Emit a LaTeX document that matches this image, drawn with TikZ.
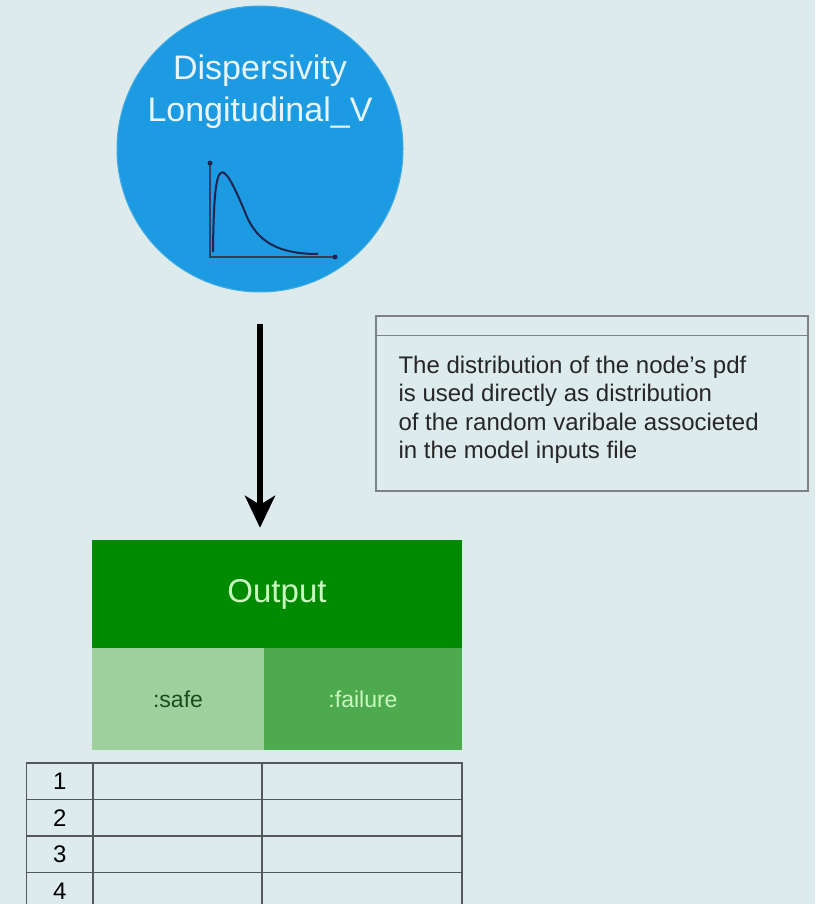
\documentclass[tikz,border=0pt]{standalone}
\usepackage{fontspec}
\setmainfont{Liberation Sans}
\usetikzlibrary{matrix,arrows.meta}

\definecolor{bgpaper}{RGB}{222,235,237}
\definecolor{nodeblue}{RGB}{29,155,226}
\definecolor{plotnavy}{RGB}{28,36,80}
\definecolor{outgreen}{RGB}{0,138,0}
\definecolor{safegreen}{RGB}{158,208,158}
\definecolor{failgreen}{RGB}{78,170,78}
\definecolor{palegreen}{RGB}{200,250,190}
\definecolor{darkgreen}{RGB}{30,75,30}
\definecolor{notegray}{RGB}{125,130,132}
\definecolor{tablegray}{RGB}{85,88,90}

\tikzset{
  pdfnode/.style={circle, fill=nodeblue, draw=nodeblue!85!white, line width=1pt,
    minimum size=286pt, inner sep=0pt},
  pdflabel/.style={text=white!90!nodeblue, align=center,
    font=\fontsize{34pt}{42pt}\selectfont},
  plotaxis/.style={draw=plotnavy!75!gray, line width=1.8pt},
  plotcurve/.style={draw=plotnavy, line width=2pt},
  flowarrow/.style={line width=6pt, -{Stealth[length=32pt, width=30pt, inset=9pt]}},
  notebox/.style={draw=notegray, line width=1.5pt, minimum width=432pt,
    minimum height=175pt, inner sep=0pt},
  notetext/.style={align=left, text=black!85, font=\fontsize{24pt}{28.5pt}\selectfont},
  outhead/.style={fill=outgreen, text=palegreen, minimum width=370pt,
    minimum height=108pt, inner sep=0pt, font=\fontsize{33pt}{40pt}\selectfont},
  safecell/.style={fill=safegreen, text=darkgreen, minimum width=172pt,
    minimum height=102pt, inner sep=0pt, font=\fontsize{23pt}{28pt}\selectfont},
  failcell/.style={fill=failgreen, text=palegreen, minimum width=198pt,
    minimum height=102pt, inner sep=0pt, font=\fontsize{23pt}{28pt}\selectfont}
}

\begin{document}
\begin{tikzpicture}[x=1pt, y=-1pt]
\clip (0,0) rectangle (815,904);
\fill[bgpaper] (0,0) rectangle (815,904);

    % Nodo de entrada
\node[pdfnode] (disp) at (260,149) {};
\node[pdflabel] (displabel) at (260,92) {Dispersivity\\Longitudinal\_V};

    % Icono de la pdf
\draw[plotaxis] (210,163) -- (210,257) -- (335,257);
\fill[plotnavy] (210,163) circle (2.5);
\fill[plotnavy] (335,257) circle (2.5);
\draw[plotcurve] (213,252) .. controls (214,152) and (221,155) .. (245,212)
    .. controls (256.5,243) and (280,254) .. (318,254);

    % Nota
\node[notebox] (note) at (592,403.5) {};
\draw[draw=notegray, line width=1.5pt] ([yshift=-20pt]note.north west) -- ([yshift=-20pt]note.north east);
\node[notetext, anchor=west] (notetxt) at (395,410)
{The distribution of the node's pdf\\
is used directly as distribution\\
of the random varibale associeted\\
in the model inputs file};

    % Salida
\node[outhead] (outhead) at (277,594) {Output};
\node[safecell] (safe) at (178,699) {:safe};
\node[failcell] (fail) at (363,699) {:failure};

    % Flecha
\draw[flowarrow, shorten <=31pt, shorten >=12pt] (disp.south) -- (disp.south |- outhead.north);

    % Tabla de resultados
\matrix (runs) [matrix of nodes, nodes in empty cells,
nodes={draw=tablegray, line width=1.5pt, minimum height=36.5pt, inner sep=0pt,
  outer sep=0pt, anchor=center, text height=17pt, text depth=0pt,
  font=\fontsize{24pt}{28pt}\selectfont},
column 1/.style={nodes={minimum width=66pt, xshift=2pt}},
column 2/.style={nodes={minimum width=169pt}},
column 3/.style={nodes={minimum width=200pt}},
column sep=-1.5pt, row sep=-1.5pt, inner sep=0pt, outer sep=0pt,
anchor=north west] at (26,762)
{
    1 & & \\
    2 & & \\
    3 & & \\
    4 & & \\
};

\end{tikzpicture}
\end{document}
